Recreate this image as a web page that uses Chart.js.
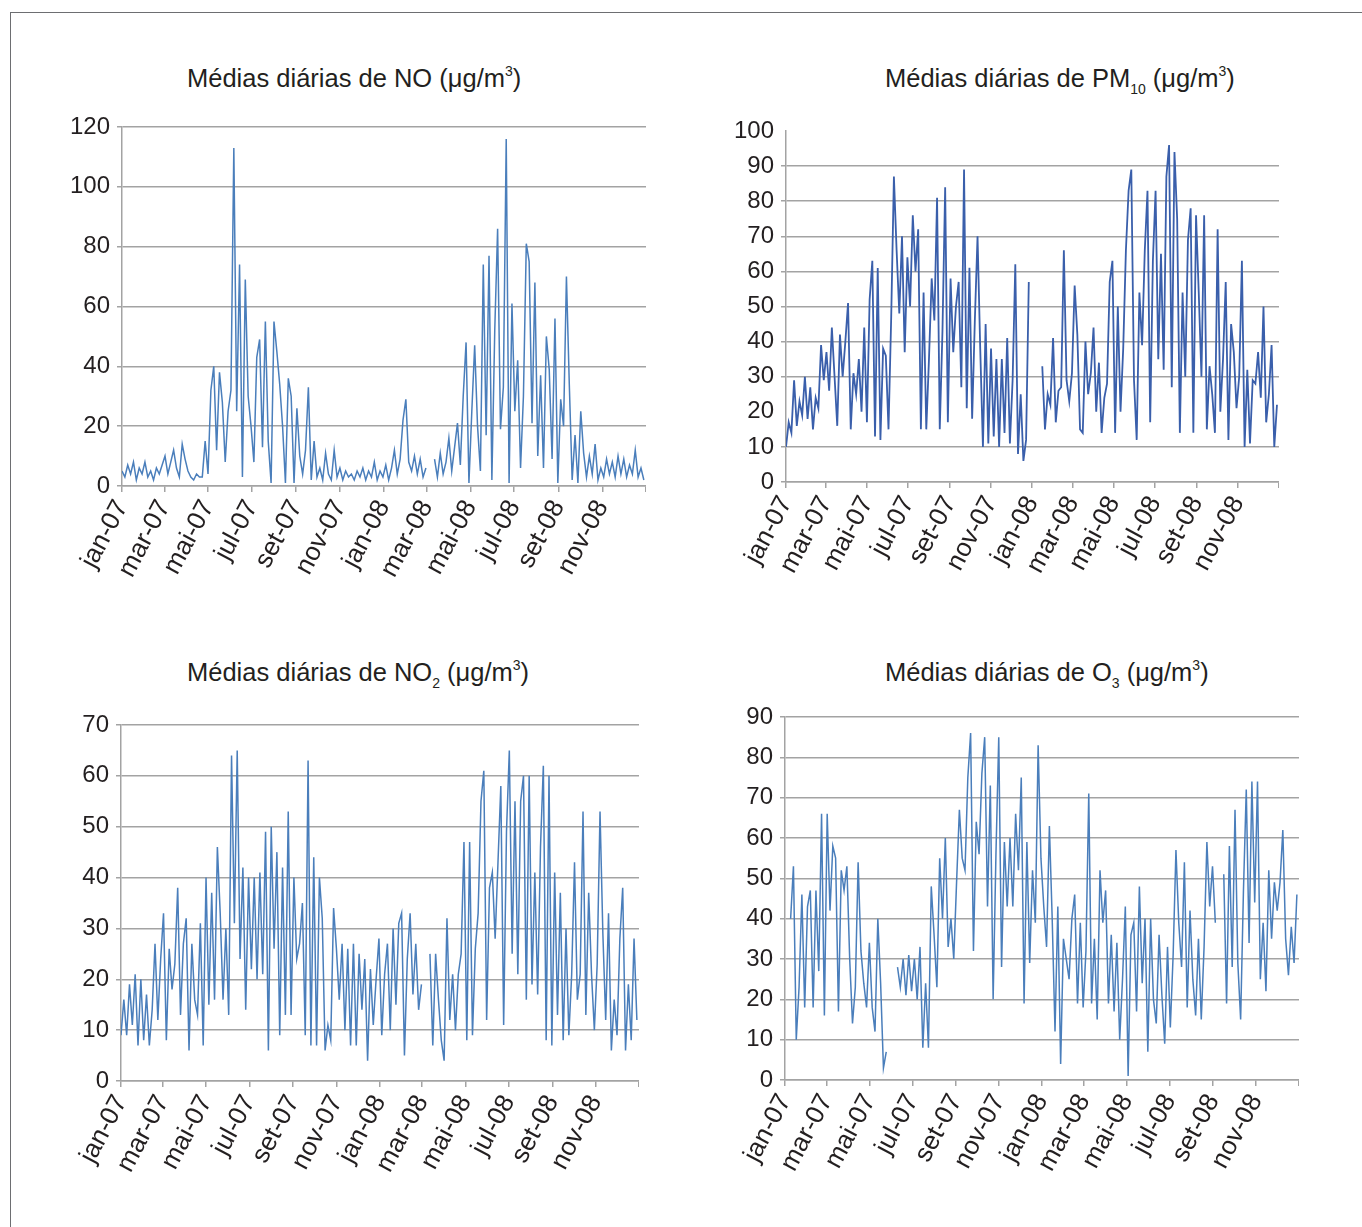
<!DOCTYPE html>
<html lang="pt">
<head>
<meta charset="UTF-8">
<title>Médias diárias de poluentes</title>
<script src="https://cdn.jsdelivr.net/npm/chart.js"></script>
<style>
  body { margin: 0; background: #fff; width: 1362px; height: 1227px; position: relative; overflow: hidden;
         font-family: "Liberation Sans", Arial, sans-serif; color: #231f20; }
  #frame { position: absolute; left: 10px; top: 12px; width: 1400px; height: 1300px;
           border-left: 1.5px solid #6d6e71; border-top: 1.5px solid #6d6e71; }
  .title { position: absolute; font-size: 25.5px; line-height: 28px; white-space: nowrap; }
  .title sub { font-size: 14px; vertical-align: -7px; line-height: 0; }
  .title sup { font-size: 14px; vertical-align: 11px; line-height: 0; }
  canvas { position: absolute; }
</style>
</head>
<body>
<div id="frame"></div>

<div class="title" style="left:187px; top:64px">Médias diárias de NO (μg/m<sup>3</sup>)</div>
<div class="title" style="left:885px; top:64px">Médias diárias de PM<sub>10</sub> (μg/m<sup>3</sup>)</div>
<div class="title" style="left:187px; top:658px">Médias diárias de NO<sub>2</sub> (μg/m<sup>3</sup>)</div>
<div class="title" style="left:885px; top:658px">Médias diárias de O<sub>3</sub> (μg/m<sup>3</sup>)</div>

<canvas id="noChart" width="606" height="486" style="left:40px; top:110px"></canvas>
<canvas id="pm10Chart" width="574" height="477" style="left:705px; top:115px"></canvas>
<canvas id="no2Chart" width="599" height="483" style="left:40px; top:708px"></canvas>
<canvas id="o3Chart" width="594" height="490" style="left:705px; top:700px"></canvas>

<script>
// days since 1 Jan 2007 where the axis ticks sit (every two months)
const tickDays = [0, 59, 120, 181, 243, 304, 365, 425, 486, 547, 609, 670, 731];
const tickLabels = ["jan-07", "mar-07", "mai-07", "jul-07", "set-07", "nov-07",
                    "jan-08", "mar-08", "mai-08", "jul-08", "set-08", "nov-08", ""];
const step = 4; // one reading every 4 days

const noValues = [
  5,3,7,4,8,2,6,4,8,3,5,2,6,4,7,
  10,4,8,12,6,3,14,9,5,3,2,4,3,
  3,15,4,32,40,12,38,28,8,25,32,113,25,74,3,69,30,20,8,43,49,13,55,15,1,55,45,34,20,1,36,30,1,26,10,
  4,12,33,2,15,3,6,2,11,4,2,12,3,6,2,5,3,4,2,5,3,6,2,5,3,8,2,5,3,7,2,6,
  12,4,9,22,29,8,5,10,4,9,3,6,null,null,9,3,11,4,8,16,5,13,21,7,30,48,1,25,47,
  20,5,74,17,77,2,52,86,19,33,116,1,61,25,42,6,30,81,75,21,68,10,37,6,50,39,9,56,1,29,
  20,70,34,2,17,1,25,11,3,10,4,14,2,6,3,9,4,8,3,10,4,9,3,7,4,12,3,6,2
];

const pm10Values = [
  10,17,14,29,16,23,19,30,18,27,
  15,24,21,39,29,37,26,44,30,16,
  42,30,40,51,15,31,25,35,20,44,
  17,52,63,13,61,12,38,36,15,47,
  87,66,48,70,37,64,50,76,60,72,
  15,54,15,35,58,46,81,15,43,84,
  17,58,37,
  50,57,27,89,21,61,18,46,70,38,
  10,45,11,38,13,35,10,35,14,41,
  11,29,62,8,25,6,12,57,null,null,
  null,null,33,15,25,22,41,17,26,27,
  66,29,23,31,56,42,15,14,40,25,
  31,44,20,34,14,24,28,57,63,14,
  50,20,38,66,83,89,29,12,54,39,
  66,83,17,63,83,35,65,32,87,96,
  27,94,75,14,54,30,69,78,14,76,
  54,30,76,15,33,25,14,72,20,35,
  57,12,45,37,21,30,63,10,32,11,
  29,28,37,24,50,17,25,39,10,22
];

const no2Values = [
  9,16,9,19,11,21,7,20,8,17,7,14,27,12,24,33,8,26,18,23,38,13,27,32,6,27,16,13,31,7,40,15,37,16,
  46,33,16,30,13,64,31,65,24,42,14,40,22,40,20,41,21,49,6,50,26,45,9,42,13,53,
  13,40,24,27,35,9,63,7,44,7,
  40,32,6,11,8,34,26,16,27,10,
  26,7,27,7,25,14,24,4,22,11,
  20,28,9,21,27,10,30,15,31,33,
  5,24,33,17,27,14,19,null,null,25,
  7,25,16,8,4,32,12,21,10,21,
  25,47,8,
  47,9,26,33,55,61,12,38,41,28,
  43,58,11,49,65,25,55,21,55,60,
  16,60,19,41,17,46,62,8,60,7,
  41,13,37,8,30,9,21,43,16,21,
  53,13,37,21,10,23,53,29,12,33,
  6,16,9,28,38,6,19,8,28,12
];

const o3Values = [
  null,null,40,53,10,23,46,18,43,47,
  18,47,27,66,16,66,42,58,55,17,
  52,47,53,30,14,23,54,32,24,18,
  34,18,12,40,24,3,7,null,null,null,
  28,23,30,21,31,22,30,20,33,8,
  24,8,48,36,23,55,40,60,33,40,
  30,49,67,55,52,75,86,32,64,56,
  76,85,43,73,20,56,85,28,59,43,
  60,43,66,52,75,19,59,29,52,39,
  83,55,43,33,63,40,12,43,4,35,
  30,25,40,46,19,39,18,32,71,19,
  35,15,52,39,47,19,36,17,34,10,
  25,43,1,
  36,39,17,48,24,40,7,40,20,14,
  36,21,9,33,13,31,57,39,28,54,
  18,42,25,16,35,15,33,59,43,53,
  39,null,null,51,19,58,28,67,29,15,
  47,72,34,74,44,74,25,39,22,52,
  35,49,42,49,62,35,26,38,29,46
];

const gridColor = "#a3a3a3";
const textColor = "#231f20";
const yFont = { family: "'Liberation Sans', Arial, sans-serif", size: 24 };
const xFont = { family: "'Liberation Sans', Arial, sans-serif", size: 26 };

function toPoints(values) {
  return values.map((v, i) => ({ x: i * step, y: v }));
}

function panel(id, values, yMax, color, lineWidth, yWidth, topPad, hidden) {
  new Chart(document.getElementById(id), {
    type: "line",
    data: {
      datasets: [{
        data: toPoints(values),
        borderColor: color,
        borderWidth: lineWidth,
        pointRadius: 0,
        tension: 0,
        spanGaps: false
      }]
    },
    options: {
      responsive: false,
      animation: false,
      layout: { padding: { top: topPad, right: 0, bottom: 0, left: 0 } },
      plugins: { legend: { display: false }, tooltip: { enabled: false } },
      scales: {
        x: {
          type: "linear",
          min: 0,
          max: 731,
          afterBuildTicks: (s) => { s.ticks = tickDays.map((d) => ({ value: d })); },
          afterFit: (s) => { s.height = 110; s.paddingLeft = 0; s.paddingRight = 0; },
          grid: { drawOnChartArea: false, drawTicks: true, tickLength: 6, color: gridColor, lineWidth: 1.5 },
          border: { color: gridColor, width: 1.5 },
          ticks: {
            autoSkip: false,
            maxRotation: 62,
            minRotation: 62,
            padding: 3,
            color: textColor,
            font: xFont,
            callback: (v, i) => tickLabels[i]
          }
        },
        y: {
          min: 0,
          max: yMax,
          afterFit: (s) => { s.width = yWidth; s.paddingTop = 0; s.paddingBottom = 0; },
          grid: {
            tickLength: 5,
            lineWidth: 1.5,
            color: (ctx) => (ctx.tick && hidden.includes(ctx.tick.value)) ? "rgba(0,0,0,0)" : gridColor
          },
          border: { color: gridColor, width: 1.5 },
          ticks: { stepSize: yMax > 100 ? 20 : 10, padding: 7, color: textColor, font: yFont }
        }
      }
    }
  });
}

panel("noChart", noValues, 120, "#4a7ebb", 1.5, 82, 17, []);
panel("pm10Chart", pm10Values, 100, "#3a5fab", 1.8, 81, 16, [20, 100]);
panel("no2Chart", no2Values, 70, "#4a7ebb", 1.5, 81, 17, []);
panel("o3Chart", o3Values, 90, "#4a7ebb", 1.5, 80, 17, []);
</script>
</body>
</html>
